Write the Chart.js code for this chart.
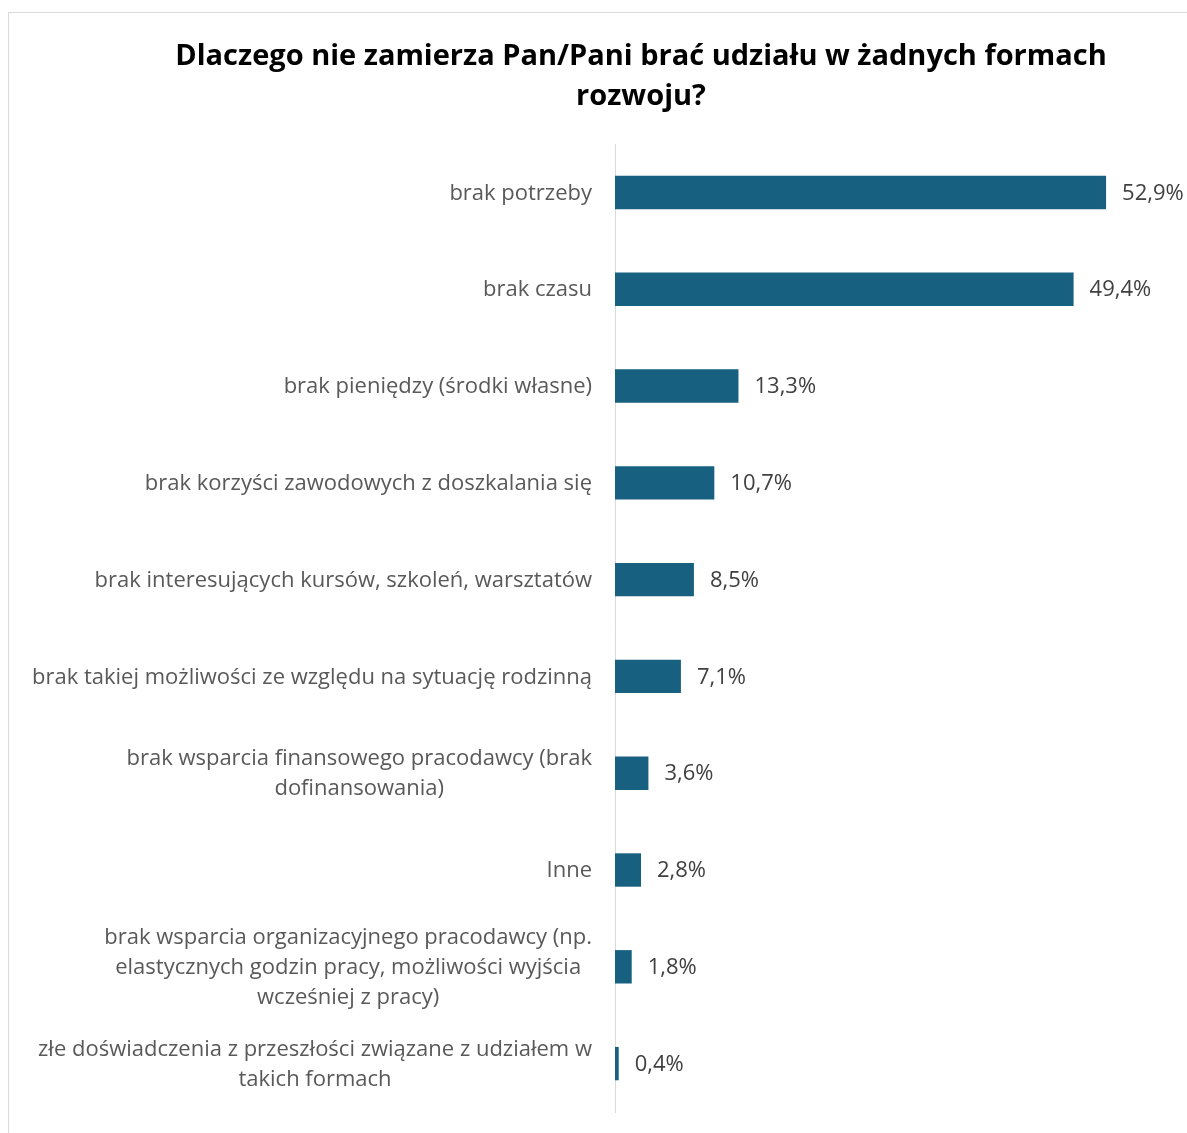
<!DOCTYPE html>
<html lang="pl">
<head>
<meta charset="utf-8">
<title>Dlaczego nie zamierza Pan/Pani brać udziału w żadnych formach rozwoju?</title>
<script src="https://cdn.jsdelivr.net/npm/chart.js@4/dist/chart.umd.min.js"></script>
<style>
  html, body { margin: 0; padding: 0; background: #ffffff; overflow: hidden; }
  #frame {
    position: absolute; left: 8px; top: 12px;
    width: 1264px; height: 1200px;
    border: 1px solid #d9d9d9; background: #ffffff;
  }
  canvas { display: block; }
</style>
</head>
<body>
<div id="frame"><canvas id="chart" width="1264" height="1120"></canvas></div>
<script>
// Survey answers (multi-line labels are split into rows)
const categories = [
  ['brak potrzeby'],
  ['brak czasu'],
  ['brak pieniędzy (środki własne)'],
  ['brak korzyści zawodowych z doszkalania się'],
  ['brak interesujących kursów, szkoleń, warsztatów'],
  ['brak takiej możliwości ze względu na sytuację rodzinną'],
  ['brak wsparcia finansowego pracodawcy (brak', 'dofinansowania)'],
  ['Inne'],
  ['brak wsparcia organizacyjnego pracodawcy (np.', 'elastycznych godzin pracy, możliwości wyjścia', 'wcześniej z pracy)'],
  ['złe doświadczenia z przeszłości związane z udziałem w', 'takich formach']
];

// Share of respondents, %
const shares = [52.9, 49.4, 13.3, 10.7, 8.5, 7.1, 3.6, 2.8, 1.8, 0.4];

const titleLines = ['Dlaczego nie zamierza Pan/Pani brać udziału w żadnych formach', 'rozwoju?'];

const BAR_COLOR = '#17607f';
const LABEL_COLOR = '#595959';
const VALUE_COLOR = '#404040';
const FONT = '"Open Sans", "Noto Sans", sans-serif';

// Category labels: each block right-aligned to the axis, rows centred within the block
const categoryLabels = {
  id: 'categoryLabels',
  afterDraw(chart) {
    const { ctx, chartArea, scales } = chart;
    const y = scales.y;
    const right = chartArea.left - 23;
    const lineH = 30;
    ctx.save();
    ctx.font = '22px ' + FONT;
    ctx.fillStyle = LABEL_COLOR;
    ctx.textAlign = 'center';
    ctx.textBaseline = 'middle';
    categories.forEach((lines, i) => {
      const cy = y.getPixelForTick(i) + 1;
      const w = Math.max(...lines.map(l => ctx.measureText(l).width));
      const cx = right - w / 2;
      const top = cy - (lines.length - 1) * lineH / 2;
      lines.forEach((l, k) => ctx.fillText(l, cx, top + k * lineH));
    });
    ctx.restore();
  }
};

// Value labels at the end of each bar
const valueLabels = {
  id: 'valueLabels',
  afterDatasetsDraw(chart) {
    const { ctx } = chart;
    const meta = chart.getDatasetMeta(0);
    ctx.save();
    ctx.font = '22px ' + FONT;
    ctx.fillStyle = VALUE_COLOR;
    ctx.textAlign = 'left';
    ctx.textBaseline = 'middle';
    meta.data.forEach((bar, i) => {
      const txt = shares[i].toFixed(1).replace('.', ',') + '%';
      ctx.fillText(txt, bar.x + 16, bar.y + 1);
    });
    ctx.restore();
  }
};

new Chart(document.getElementById('chart'), {
  type: 'bar',
  data: {
    labels: categories,
    datasets: [{
      data: shares,
      backgroundColor: BAR_COLOR,
      borderWidth: 0,
      barPercentage: 0.345,
      categoryPercentage: 1
    }]
  },
  options: {
    indexAxis: 'y',
    responsive: false,
    animation: false,
    devicePixelRatio: 1,
    // symmetric side padding keeps the title centred on the frame
    layout: { padding: { left: 101, right: 101, top: 0, bottom: 21 } },
    plugins: {
      legend: { display: false },
      tooltip: { enabled: false },
      title: {
        display: true,
        text: titleLines,
        color: '#000000',
        font: { family: FONT, size: 29, weight: 'bold', lineHeight: 1.38 },
        padding: { top: 24, bottom: 27 }
      }
    },
    scales: {
      x: { display: false, min: 0, max: 60 },
      y: {
        grid: { display: false },
        border: { display: true, color: '#d9d9d9', width: 1 },
        ticks: { display: false },
        afterFit(scale) { scale.width = 505; }
      }
    }
  },
  plugins: [categoryLabels, valueLabels]
});
</script>
</body>
</html>
